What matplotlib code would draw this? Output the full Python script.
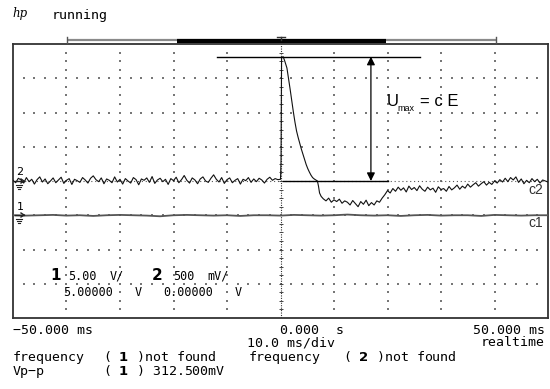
import numpy as np
import matplotlib
matplotlib.use('Agg')
import matplotlib.pyplot as plt

W, H = 550, 389

# ---------------- data (time in ms, amplitude in divisions) ----------------
t_pre = np.arange(-50.0, 0.0, 0.5)
ch2_pre = [0.02, -0.05, 0.08, 0.03, -0.06, 0.10, -0.02, 0.05, -0.09, 0.04,
           0.12, -0.03, 0.06, -0.08, 0.00, 0.09, -0.05, 0.03, 0.11, -0.07,
           0.02, 0.07, -0.10, 0.05, 0.01, -0.04, 0.10, 0.03, -0.06, 0.08,
           0.15, 0.04, -0.02, 0.09, -0.08, 0.06, 0.02, -0.05, 0.12, -0.03,
           0.05, -0.09, 0.07, 0.00, -0.06, 0.10, 0.04, -0.11, 0.06, 0.02,
           0.09, -0.04, 0.13, -0.07, 0.03, 0.08, -0.02, 0.05, -0.10, 0.07,
           0.01, 0.11, -0.05, 0.04, 0.16, 0.02, -0.06, 0.09, 0.03, -0.08,
           0.06, 0.12, 0.00, -0.04, 0.08, 0.18, 0.05, -0.03, 0.10, -0.07,
           0.04, 0.09, -0.05, 0.02, 0.07, -0.09, 0.05, 0.01, 0.10, -0.04,
           0.06, -0.02, 0.08, 0.03, -0.06, 0.05, 0.11, 0.02, 0.07, 0.04]

t_edge = [0.0, 0.1, 0.2, 0.5, 0.8, 1.2, 1.5, 1.8, 2.1, 2.4, 2.7, 3.0, 3.3, 3.6,
          3.9, 4.2, 4.5, 4.8, 5.1, 5.4, 5.7, 6.0, 6.3, 6.6, 6.9, 7.1, 7.3, 7.6]
ch2_edge = [0.05, 0.60, 3.60, 3.63, 3.50, 3.30, 3.00, 2.68, 2.35, 2.02, 1.72,
            1.46, 1.27, 1.10, 0.93, 0.78, 0.63, 0.48, 0.36, 0.26, 0.17, 0.10,
            0.06, 0.03, 0.00, -0.15, -0.35, -0.45]

t_post = np.arange(8.0, 50.01, 0.5)
ch2_post = [-0.52, -0.58, -0.50, -0.62, -0.55, -0.60, -0.53, -0.65, -0.58,
            -0.62, -0.70, -0.57, -0.66, -0.75, -0.60, -0.68, -0.56, -0.72, -0.63, -0.70, -0.58,
            -0.62, -0.50, -0.40, -0.28, -0.35, -0.22,
            -0.30, -0.18, -0.27, -0.20, -0.32, -0.15, -0.25, -0.19, -0.28, -0.14,
            -0.24, -0.30, -0.18, -0.26, -0.21, -0.33, -0.17, -0.25,
            -0.22, -0.30, -0.16, -0.26, -0.20, -0.12, -0.24, -0.15, -0.21, -0.09,
            -0.18, -0.11, -0.05, -0.15, -0.08, -0.02, -0.12, -0.04, -0.10, 0.00,
            -0.06, 0.04, -0.03, 0.08, -0.02, 0.10, 0.03, 0.12, -0.04, 0.06,
            -0.08, 0.02, -0.05, 0.07, -0.02, 0.05, -0.06, 0.03, 0.00, -0.03]

t_ch1 = np.arange(-50.0, 50.01, 2.5)
ch1 = [-1.00, -1.01, -1.00, -0.99, -1.01, -1.00, -1.02, -1.00, -0.99, -1.00,
       -1.01, -1.03, -1.00, -0.99, -1.00, -1.01, -1.00, -1.02, -1.00, -1.00,
       -1.01, -0.99, -1.00, -1.01, -1.00, -0.98, -1.00, -1.01, -1.00, -1.02,
       -1.00, -0.99, -1.01, -1.00, -1.00, -1.02, -0.99, -1.00, -1.01, -1.00, -1.00]

x_ticklabels = ["\u221250.000 ms", "0.000", "s", "50.000 ms"]

t2 = np.concatenate([t_pre, t_edge, t_post])
ch2 = np.concatenate([ch2_pre, ch2_edge, ch2_post])

# ---------------- figure ----------------
fig = plt.figure(figsize=(W / 100, H / 100), dpi=100)
fig.patch.set_facecolor('white')

def fx(x):
    return x / W

def fy(y):
    return 1 - y / H

ax = fig.add_axes([fx(13), fy(318), 535 / W, 274 / H])
ax.set_xlim(-50, 50)
ax.set_ylim(-4, 4)
ax.set_xticks([])
ax.set_yticks([])
for s in ax.spines.values():
    s.set_color('#333333')
    s.set_linewidth(1.3)

# grid dots
dot_c = '#777777'
for xc in [-40, -30, -20, -10, 10, 20, 30, 40]:
    ys = np.arange(-3.75, 3.76, 0.25)
    ax.scatter(np.full_like(ys, xc), ys, s=0.9, marker='s', color=dot_c, lw=0, zorder=1)
for yr in [-3, -2, -1, 1, 2, 3]:
    xs = np.arange(-48, 48.1, 2)
    ax.scatter(xs, np.full_like(xs, yr), s=0.9, marker='s', color=dot_c, lw=0, zorder=1)
# centre lines
ax.plot([0, 0], [-4, 4], ls=(0, (1, 1.2)), color='#333333', lw=0.8, zorder=1)
ax.plot([-50, 50], [0, 0], ls=(0, (1, 2.5)), color='#555555', lw=0.8, zorder=1)
cy = np.arange(-3.75, 3.76, 0.25)
ax.plot(np.zeros_like(cy), cy, ls='none', marker='_', ms=3, mew=0.7, color='#444444', zorder=1)

# traces
ax.plot(t_ch1, ch1, color='#555555', lw=1.3, zorder=3)
ax.plot(t2, ch2, color='#111111', lw=0.8, zorder=4)

# U_max annotation
peak = float(np.max(ch2))
ax.plot([-11.9, 26.1], [peak, peak], color='black', lw=1.0, zorder=5)
ax.plot([0.5, 20.0], [0, 0], color='black', lw=1.0, zorder=5)
ax.annotate('', xy=(16.9, peak), xytext=(16.9, 0),
            arrowprops=dict(arrowstyle='<|-|>', color='black', lw=0.9,
                            mutation_scale=12, shrinkA=0, shrinkB=0), zorder=6)

# ---------------- overlay in pixel coordinates ----------------
ov = fig.add_axes([0, 0, 1, 1], zorder=10)
ov.set_xlim(0, W)
ov.set_ylim(H, 0)
ov.axis('off')
ov.patch.set_alpha(0)

# top record bar
ov.plot([67, 496], [40, 40], color='#8a8a8a', lw=1.6, solid_capstyle='butt')
ov.plot([177, 386], [40.5, 40.5], color='black', lw=3.0, solid_capstyle='butt')
ov.plot([67, 67], [37, 43], color='#555555', lw=1.0)
ov.plot([496, 496], [37, 43], color='#555555', lw=1.0)
ov.plot([277, 285], [37, 37], color='#333333', lw=1.0)
ov.plot([281, 281], [37, 40], color='#333333', lw=1.0)

# channel markers
ov.text(20, 172, '2', fontsize=8, ha='center', va='center', family='DejaVu Sans')
ov.plot([15, 24], [181, 181], color='#222222', lw=1.0)
ov.plot([21, 24, 21], [179, 181, 183], color='#222222', lw=1.0)
ov.plot([16, 22], [185, 185], color='#222222', lw=0.8)
ov.plot([17, 21], [187, 187], color='#222222', lw=0.8)
ov.plot([18, 20], [189, 189], color='#222222', lw=0.8)
ov.text(20, 207, '1', fontsize=8, ha='center', va='center', family='DejaVu Sans')
ov.plot([15, 24], [215, 215], color='#222222', lw=1.0)
ov.plot([21, 24, 21], [213, 215, 217], color='#222222', lw=1.0)
ov.plot([16, 22], [219, 219], color='#222222', lw=0.8)
ov.plot([17, 21], [221, 221], color='#222222', lw=0.8)
ov.plot([18, 20], [223, 223], color='#222222', lw=0.8)

ov.text(528, 190, 'c2', fontsize=10, ha='left', va='center', family='Liberation Sans', color='#333333')
ov.text(528, 223, 'c1', fontsize=10, ha='left', va='center', family='Liberation Sans', color='#333333')

# U_max label
ov.text(387, 101, 'U', fontsize=12, ha='left', va='center', family='Liberation Sans')
ov.text(397, 108, 'max', fontsize=6.5, ha='left', va='center', family='Liberation Sans')
ov.text(420, 101, '= c E', fontsize=12, ha='left', va='center', family='Liberation Sans')

# ---------------- text around the screen ----------------
mono = 'DejaVu Sans Mono'
fs = 9.5

ov.text(12, 13, 'hp', fontsize=8.5, style='italic', family='DejaVu Serif', ha='left', va='center')
ov.text(52, 15, 'running', fontsize=fs, family=mono, ha='left', va='center')

# scale box inside the screen
ov.text(50, 276, '1', fontsize=11, weight='bold', family='DejaVu Sans', ha='left', va='center')
ov.text(68, 276, '5.00', fontsize=8.5, family=mono, ha='left', va='center')
ov.text(110, 276, 'V/', fontsize=8.5, family=mono, ha='left', va='center')
ov.text(152, 276, '2', fontsize=11, weight='bold', family='DejaVu Sans', ha='left', va='center')
ov.text(173, 276, '500', fontsize=8.5, family=mono, ha='left', va='center')
ov.text(207, 276, 'mV/', fontsize=8.5, family=mono, ha='left', va='center')
ov.text(63, 292, '5.00000', fontsize=8.5, family=mono, ha='left', va='center')
ov.text(135, 292, 'V', fontsize=8.5, family=mono, ha='left', va='center')
ov.text(163, 292, '0.00000', fontsize=8.5, family=mono, ha='left', va='center')
ov.text(235, 292, 'V', fontsize=8.5, family=mono, ha='left', va='center')

# time axis labels
ov.text(13, 330, x_ticklabels[0], fontsize=fs, family=mono, ha='left', va='center')
ov.text(279, 330, x_ticklabels[1], fontsize=fs, family=mono, ha='left', va='center')
ov.text(336, 330, x_ticklabels[2], fontsize=fs, family=mono, ha='left', va='center')
ov.text(545, 330, x_ticklabels[3], fontsize=fs, family=mono, ha='right', va='center')
ov.text(247, 343, '10.0 ms/div', fontsize=fs, family=mono, ha='left', va='center')
ov.text(545, 343, 'realtime', fontsize=fs, family=mono, ha='right', va='center')

# measurements
ov.text(13, 357, 'frequency', fontsize=fs, family=mono, ha='left', va='center')
ov.text(103, 357, r'( $\mathbf{1}$ )not found', fontsize=fs, family=mono, ha='left', va='center')
ov.text(249, 357, 'frequency', fontsize=fs, family=mono, ha='left', va='center')
ov.text(343, 357, r'( $\mathbf{2}$ )not found', fontsize=fs, family=mono, ha='left', va='center')
ov.text(13, 371, 'Vp\u2212p', fontsize=fs, family=mono, ha='left', va='center')
ov.text(103, 371, r'( $\mathbf{1}$ ) 312.500mV', fontsize=fs, family=mono, ha='left', va='center')

fig.savefig('out.png', dpi=100, facecolor='white')
